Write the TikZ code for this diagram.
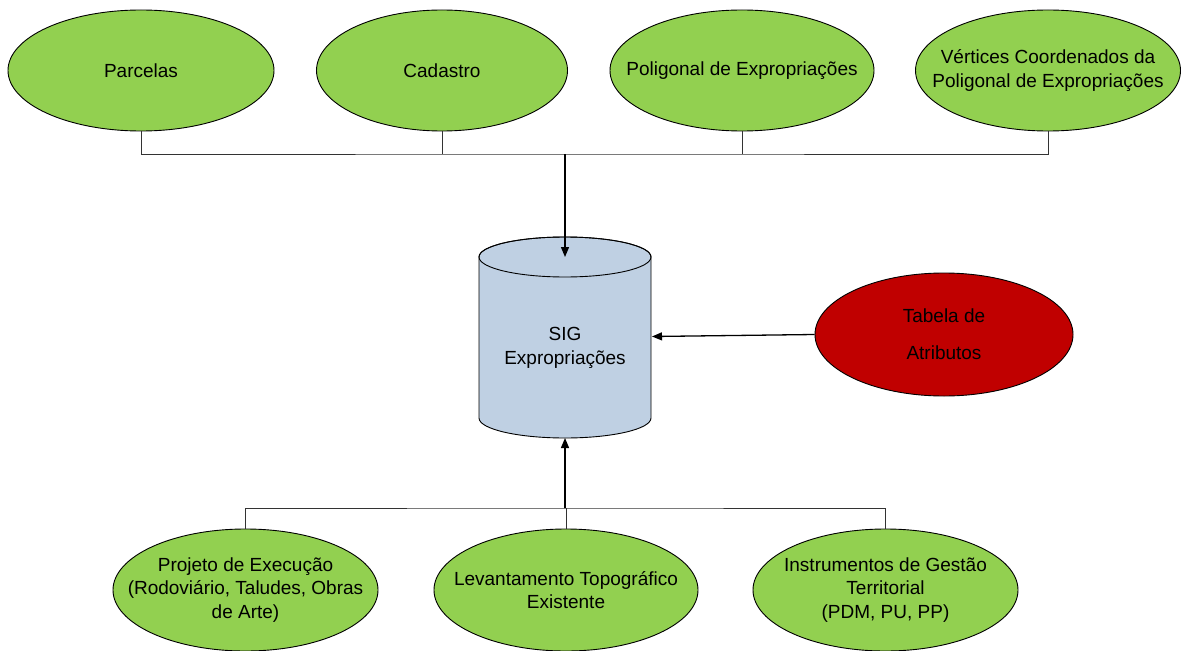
\documentclass[tikz,border=0pt]{standalone}
\usepackage{fontspec}
\setmainfont{Liberation Sans}
\usetikzlibrary{shapes.geometric,arrows.meta}
\definecolor{ellgreen}{HTML}{92D050}
\definecolor{ellred}{HTML}{C00000}
\definecolor{cylblue}{HTML}{BFD0E3}
\definecolor{linegray}{HTML}{333333}
\tikzset{
  ell/.style={ellipse, draw=black, line width=0.9pt, inner sep=0pt},
  greenell/.style={ell, fill=ellgreen},
  redell/.style={ell, fill=ellred},
  lbl/.style={align=center, font=\fontsize{19}{23.5}\selectfont, text=black},
  conn/.style={draw=linegray, line width=1pt},
  arr/.style={draw=black, line width=1.3pt, -{Triangle[length=10pt,width=8pt]}},
}
\begin{document}
\begin{tikzpicture}[x=1pt,y=-1pt]
\useasboundingbox (0,0) rectangle (1182,650);

% top ellipses
\node[greenell, minimum width=266pt, minimum height=121pt,
      label={[lbl]center:Parcelas}] (parc) at (141,70.5) {};
\node[greenell, minimum width=251pt, minimum height=121pt,
      label={[lbl]center:Cadastro}] (cad) at (442,70.5) {};
\node[greenell, minimum width=264pt, minimum height=121pt,
      label={[lbl]center:Poligonal de Expropriações}] (pol) at (742,70.5) {};
\node[greenell, minimum width=265pt, minimum height=121pt,
      label={[lbl]center:Vértices Coordenados da\\Poligonal de Expropriações}] (vert) at (1048,70.5) {};

% cylinder
\path[fill=cylblue, draw=black, line width=0.9pt]
  (479,257) -- (479,418) arc (180:360:86pt and 20pt) -- (651,257) arc (0:180:86pt and 20pt) -- cycle;
\draw[black, line width=0.9pt] (565,257) ellipse (86pt and 20pt);
\node[lbl] (sig) at (565,348) {SIG\\Expropriações};
\coordinate (cyltop) at (565,257);
\coordinate (cylbot) at (565,438);
\coordinate (cylright) at (652,336.5);

% red ellipse
\node[redell, minimum width=258pt, minimum height=123pt,
      label={[lbl, font=\fontsize{19}{37}\selectfont]center:Tabela de\\Atributos}] (tab) at (944,334.5) {};

% bottom ellipses
\node[greenell, minimum width=265pt, minimum height=122pt,
      label={[lbl]center:Projeto de Execução\\(Rodoviário, Taludes, Obras\\de Arte)}] (proj) at (245.5,590) {};
\node[greenell, minimum width=264pt, minimum height=122pt,
      label={[lbl]center:Levantamento Topográfico\\Existente}] (lev) at (566,590) {};
\node[greenell, minimum width=265pt, minimum height=122pt,
      label={[lbl]center:Instrumentos de Gestão\\Territorial\\(PDM, PU, PP)}] (inst) at (885.5,590) {};

% connectors
\coordinate (topbus) at (565,154);
\coordinate (botbus) at (565,508);
\draw[conn] (parc.south) |- (topbus) -| (vert.south);
\draw[conn] (cad.south) -- (cad.south |- topbus);
\draw[conn] (pol.south) -- (pol.south |- topbus);
\draw[arr] (topbus) -- (cyltop);

\draw[conn] (proj.north) |- (botbus) -| (inst.north);
\draw[conn] (lev.north) -- (lev.north |- botbus);
\draw[arr] (botbus) -- (cylbot);

\draw[arr] (tab.west) -- (cylright);
\end{tikzpicture}
\end{document}
